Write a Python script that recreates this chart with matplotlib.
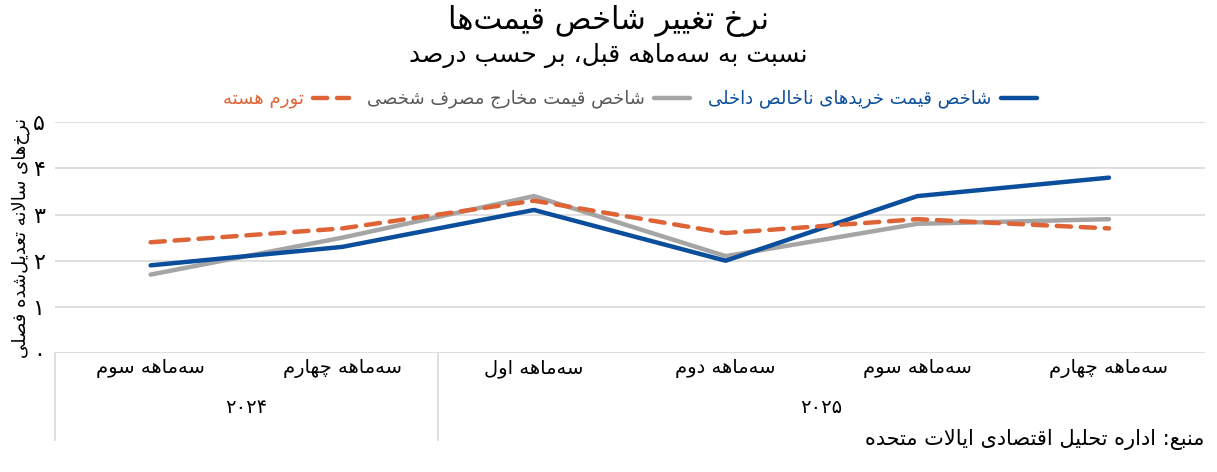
import numpy as np
import matplotlib.pyplot as plt
from matplotlib.lines import Line2D

# --- simple Persian shaping (presentation forms) + RTL reversal ---
FORMS = {
    '\u0627': ('\uFE8D', '\uFE8E', None, None),
    '\u0622': ('\uFE81', '\uFE82', None, None),
    '\u0628': ('\uFE8F', '\uFE90', '\uFE91', '\uFE92'),
    '\u067E': ('\uFB56', '\uFB57', '\uFB58', '\uFB59'),
    '\u062A': ('\uFE95', '\uFE96', '\uFE97', '\uFE98'),
    '\u062B': ('\uFE99', '\uFE9A', '\uFE9B', '\uFE9C'),
    '\u062C': ('\uFE9D', '\uFE9E', '\uFE9F', '\uFEA0'),
    '\u0686': ('\uFB7A', '\uFB7B', '\uFB7C', '\uFB7D'),
    '\u062D': ('\uFEA1', '\uFEA2', '\uFEA3', '\uFEA4'),
    '\u062E': ('\uFEA5', '\uFEA6', '\uFEA7', '\uFEA8'),
    '\u062F': ('\uFEA9', '\uFEAA', None, None),
    '\u0630': ('\uFEAB', '\uFEAC', None, None),
    '\u0631': ('\uFEAD', '\uFEAE', None, None),
    '\u0632': ('\uFEAF', '\uFEB0', None, None),
    '\u0698': ('\uFB8A', '\uFB8B', None, None),
    '\u0633': ('\uFEB1', '\uFEB2', '\uFEB3', '\uFEB4'),
    '\u0634': ('\uFEB5', '\uFEB6', '\uFEB7', '\uFEB8'),
    '\u0635': ('\uFEB9', '\uFEBA', '\uFEBB', '\uFEBC'),
    '\u0636': ('\uFEBD', '\uFEBE', '\uFEBF', '\uFEC0'),
    '\u0637': ('\uFEC1', '\uFEC2', '\uFEC3', '\uFEC4'),
    '\u0638': ('\uFEC5', '\uFEC6', '\uFEC7', '\uFEC8'),
    '\u0639': ('\uFEC9', '\uFECA', '\uFECB', '\uFECC'),
    '\u063A': ('\uFECD', '\uFECE', '\uFECF', '\uFED0'),
    '\u0641': ('\uFED1', '\uFED2', '\uFED3', '\uFED4'),
    '\u0642': ('\uFED5', '\uFED6', '\uFED7', '\uFED8'),
    '\u06A9': ('\uFB8E', '\uFB8F', '\uFB90', '\uFB91'),
    '\u06AF': ('\uFB92', '\uFB93', '\uFB94', '\uFB95'),
    '\u0644': ('\uFEDD', '\uFEDE', '\uFEDF', '\uFEE0'),
    '\u0645': ('\uFEE1', '\uFEE2', '\uFEE3', '\uFEE4'),
    '\u0646': ('\uFEE5', '\uFEE6', '\uFEE7', '\uFEE8'),
    '\u0647': ('\uFEE9', '\uFEEA', '\uFEEB', '\uFEEC'),
    '\u0648': ('\uFEED', '\uFEEE', None, None),
    '\u06CC': ('\uFBFC', '\uFBFD', '\uFBFE', '\uFBFF'),
}


def dual(c):
    return c in FORMS and FORMS[c][2] is not None


def fa(text):
    chars = list(text)
    n = len(chars)
    out = []
    i = 0
    while i < n:
        c = chars[i]
        if c not in FORMS:
            if c != '\u200c':
                out.append(c)
            i += 1
            continue
        join_prev = i > 0 and dual(chars[i - 1])
        if c == '\u0644' and i + 1 < n and chars[i + 1] == '\u0627':
            out.append('\uFEFC' if join_prev else '\uFEFB')
            i += 2
            continue
        join_next = dual(c) and i + 1 < n and chars[i + 1] in FORMS
        iso, fin, ini, med = FORMS[c]
        if join_prev and join_next:
            out.append(med)
        elif join_prev:
            out.append(fin)
        elif join_next:
            out.append(ini)
        else:
            out.append(iso)
        i += 1
    return ''.join(out)[::-1]


# --- data ---
quarters = ['سه‌ماهه سوم', 'سه‌ماهه چهارم', 'سه‌ماهه اول', 'سه‌ماهه دوم', 'سه‌ماهه سوم', 'سه‌ماهه چهارم']
years = ['۲۰۲۴', '۲۰۲۵']
year_sizes = [2, 4]
gdp_purchases = [1.9, 2.3, 3.1, 2.0, 3.4, 3.8]
pce = [1.7, 2.5, 3.4, 2.1, 2.8, 2.9]
core = [2.4, 2.7, 3.3, 2.6, 2.9, 2.7]
ytick_labels = ['۰', '۱', '۲', '۳', '۴', '۵']

title = 'نرخ تغییر شاخص قیمت‌ها'
subtitle = 'نسبت به سه‌ماهه قبل، بر حسب درصد'
ylabel = 'نرخ‌های سالانه تعدیل‌شده فصلی'
source = 'منبع: اداره تحلیل اقتصادی ایالات متحده'
name_gdp = 'شاخص قیمت خریدهای ناخالص داخلی'
name_pce = 'شاخص قیمت مخارج مصرف شخصی'
name_core = 'تورم هسته'

BLUE = '#0b4f9c'
GRAY = '#a5a5a5'
ORANGE = '#de6437'

plt.rcParams['font.family'] = ['DejaVu Sans']

fig = plt.figure(figsize=(12.17, 4.72), dpi=100)
ax = fig.add_axes([0.045, 0.252, 0.945, 0.489])

x = np.arange(len(quarters))
ax.plot(x, core, color=ORANGE, lw=3.2, dashes=(3.2, 2.2), solid_capstyle='round',
        dash_capstyle='round', label=fa(name_core), zorder=3)
ax.plot(x, pce, color=GRAY, lw=3.2, solid_capstyle='round', label=fa(name_pce), zorder=2)
ax.plot(x, gdp_purchases, color=BLUE, lw=3.2, solid_capstyle='round', label=fa(name_gdp), zorder=2)

ax.set_xlim(-0.5, len(quarters) - 0.5)
ax.set_ylim(0, 5)
ax.set_yticks(range(6))
ax.set_yticklabels(ytick_labels, fontsize=16)
ax.tick_params(axis='y', length=0, pad=7)
ax.set_xticks([])
ax.grid(axis='y', color='#d9d9d9', lw=1.2)
ax.set_axisbelow(True)
for s in ax.spines.values():
    s.set_visible(False)

ax.set_ylabel(fa(ylabel), fontsize=13, labelpad=2)

# two-level category axis
trans = ax.get_xaxis_transform()
for xi, q in zip(x, quarters):
    ax.text(xi, -0.065, fa(q), transform=trans, ha='center', va='center', fontsize=14)
start = 0
bounds = [-0.5]
for yr, sz in zip(years, year_sizes):
    ax.text(start + (sz - 1) / 2, -0.234, yr, transform=trans, ha='center', va='center', fontsize=14)
    start += sz
    bounds.append(start - 0.5)
for b in bounds[:-1]:
    ax.add_line(Line2D([b, b], [0, -0.377], transform=trans, color='#d9d9d9', lw=1.2, clip_on=False))

leg = ax.legend(loc='center', bbox_to_anchor=(0.5, 1.1), ncol=3, frameon=False,
                markerfirst=False, fontsize=13, handlelength=2.0, columnspacing=1.0,
                handletextpad=0.5)
for txt, col in zip(leg.get_texts(), [ORANGE, '#595959', BLUE]):
    txt.set_color(col)

fig.text(0.5, 0.955, fa(title), ha='center', va='center', fontsize=22)
fig.text(0.5, 0.882, fa(subtitle), ha='center', va='center', fontsize=18)
fig.text(0.99, 0.068, fa(source), ha='right', va='center', fontsize=15)

fig.savefig('out.png', dpi=100)
